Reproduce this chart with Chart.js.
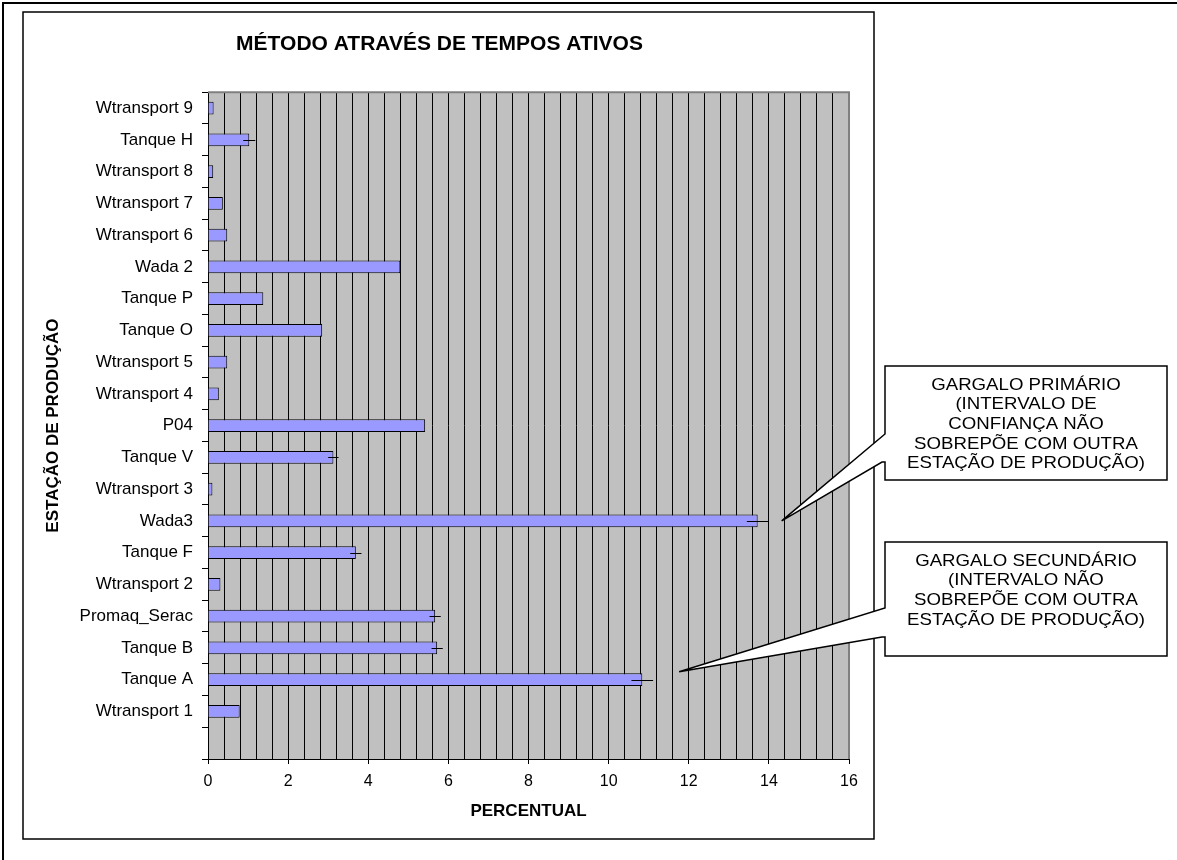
<!DOCTYPE html>
<html>
<head>
<meta charset="utf-8">
<script src="https://cdn.jsdelivr.net/npm/chart.js@4"></script>
<style>
  html, body { margin: 0; padding: 0; background: #fff; }
  #wrap { width: 1177px; height: 860px; }
</style>
</head>
<body>
<div id="wrap"><canvas id="chartOne" width="1177" height="860"></canvas></div>
<script>
// stations, top to bottom (last slot is empty in the original)
const stations = ['Wtransport 9', 'Tanque H', 'Wtransport 8', 'Wtransport 7', 'Wtransport 6',
  'Wada 2', 'Tanque P', 'Tanque O', 'Wtransport 5', 'Wtransport 4', 'P04', 'Tanque V',
  'Wtransport 3', 'Wada3', 'Tanque F', 'Wtransport 2', 'Promaq_Serac', 'Tanque B',
  'Tanque A', 'Wtransport 1', ''];
const percent = [0.14, 1.03, 0.13, 0.37, 0.48, 4.80, 1.38, 2.85, 0.48, 0.27, 5.42, 3.13,
  0.11, 13.72, 3.69, 0.31, 5.67, 5.72, 10.84, 0.79, null];
// half width of the confidence interval
const errors = [0, 0.15, 0, 0, 0, 0, 0, 0, 0, 0, 0, 0.13,
  0, 0.27, 0.14, 0, 0.14, 0.14, 0.27, 0, 0];
const xTickLabels = [0, 2, 4, 6, 8, 10, 12, 14, 16];

const notes = [
  { lines: ['GARGALO PRIMÁRIO', '(INTERVALO DE', 'CONFIANÇA NÃO', 'SOBREPÕE COM OUTRA', 'ESTAÇÃO DE PRODUÇÃO)'],
    station: 'Wada3', at: 14.32, shift: 0, box: [885, 366, 1167, 480], legs: [434, 462] },
  { lines: ['GARGALO SECUNDÁRIO', '(INTERVALO NÃO', 'SOBREPÕE COM OUTRA', 'ESTAÇÃO DE PRODUÇÃO)'],
    station: 'Tanque A', at: 11.76, shift: -0.25, box: [885, 542, 1167, 656], legs: [608, 637] }
];

const isLabel = v => xTickLabels.some(t => Math.abs(t - v) < 1e-6);

Chart.defaults.font.family = '"Liberation Sans", Arial, sans-serif';
Chart.defaults.color = '#000';

const frames = {
  id: 'frames',
  beforeDraw(chart) {
    const ctx = chart.ctx, a = chart.chartArea;
    ctx.save();
    ctx.fillStyle = '#fff';
    ctx.fillRect(0, 0, chart.width, chart.height);
    ctx.strokeStyle = '#000';
    ctx.lineWidth = 2;
    ctx.beginPath();
    ctx.moveTo(3, 860); ctx.lineTo(3, 3); ctx.lineTo(1177, 3);
    ctx.stroke();
    ctx.lineWidth = 1.5;
    ctx.strokeRect(23, 12, 851, 827);
    ctx.fillStyle = '#c0c0c0';
    ctx.fillRect(a.left, a.top, a.right - a.left, a.bottom - a.top);
    ctx.restore();
  },
  beforeDatasetsDraw(chart) {
    const ctx = chart.ctx, a = chart.chartArea;
    ctx.save();
    ctx.strokeStyle = '#808080';
    ctx.lineWidth = 2;
    ctx.beginPath();
    ctx.moveTo(a.left, a.top); ctx.lineTo(a.right, a.top); ctx.lineTo(a.right, a.bottom);
    ctx.stroke();
    ctx.restore();
  }
};

const errorBars = {
  id: 'errorBars',
  afterDatasetsDraw(chart) {
    const ctx = chart.ctx, xs = chart.scales.x;
    const meta = chart.getDatasetMeta(0);
    ctx.save();
    ctx.strokeStyle = '#000';
    ctx.lineWidth = 1;
    meta.data.forEach((bar, i) => {
      if (!errors[i] || percent[i] == null) return;
      const y = Math.round(bar.y) + 0.5;
      ctx.beginPath();
      ctx.moveTo(xs.getPixelForValue(percent[i] - errors[i]), y);
      ctx.lineTo(xs.getPixelForValue(percent[i] + errors[i]), y);
      ctx.stroke();
    });
    ctx.restore();
  }
};

const callouts = {
  id: 'callouts',
  afterDraw(chart) {
    const ctx = chart.ctx, xs = chart.scales.x, ys = chart.scales.y;
    ctx.save();
    notes.forEach(n => {
      const px = xs.getPixelForValue(n.at);
      const py = ys.getPixelForValue(stations.indexOf(n.station) + n.shift);
      const [l, t, r, b] = n.box;
      ctx.beginPath();
      ctx.moveTo(l, t);
      ctx.lineTo(r, t);
      ctx.lineTo(r, b);
      ctx.lineTo(l, b);
      ctx.lineTo(l, n.legs[1]);
      ctx.lineTo(l - 3, n.legs[1]);
      ctx.lineTo(px, py);
      ctx.lineTo(l, n.legs[0]);
      ctx.closePath();
      ctx.fillStyle = '#fff';
      ctx.fill();
      ctx.strokeStyle = '#000';
      ctx.lineWidth = 1.5;
      ctx.stroke();
      ctx.fillStyle = '#000';
      ctx.font = '16.5px "Liberation Sans", Arial, sans-serif';
      ctx.textAlign = 'center';
      ctx.textBaseline = 'middle';
      const cx = (l + r) / 2;
      n.lines.forEach((s, k) => {
        ctx.save();
        ctx.translate(cx, t + 19 + k * 19.7);
        ctx.scale(1.13, 1);
        ctx.fillText(s, 0, 0);
        ctx.restore();
      });
    });
    ctx.restore();
  }
};

new Chart(document.getElementById('chartOne'), {
  type: 'bar',
  data: {
    labels: stations,
    datasets: [{
      label: 'Percentual',
      data: percent,
      backgroundColor: '#9999ff',
      borderColor: '#000',
      borderWidth: 1,
      barPercentage: 0.4,
      categoryPercentage: 1
    }]
  },
  options: {
    indexAxis: 'y',
    responsive: false,
    animation: false,
    layout: { padding: { left: 30, right: 328, top: 20, bottom: 31 } },
    plugins: {
      legend: { display: false },
      tooltip: { enabled: false },
      title: {
        display: true,
        text: 'MÉTODO ATRAVÉS DE TEMPOS ATIVOS',
        color: '#000',
        font: { size: 21, weight: 'bold' },
        padding: { top: 12, bottom: 35 }
      }
    },
    scales: {
      x: {
        min: 0,
        max: 16,
        afterFit: s => { s.height = 70; },
        border: { color: '#000', width: 1 },
        grid: {
          color: '#000',
          lineWidth: 1,
          tickLength: 5,
          tickColor: c => (c.tick && isLabel(c.tick.value)) ? '#000' : 'rgba(0,0,0,0)'
        },
        ticks: {
          stepSize: 0.4,
          autoSkip: false,
          maxRotation: 0,
          padding: 8,
          font: { size: 16 },
          callback: v => isLabel(v) ? String(Math.round(v)) : ''
        },
        title: {
          display: true,
          text: 'PERCENTUAL',
          font: { size: 17, weight: 'bold' },
          padding: { top: 0, bottom: 7 }
        }
      },
      y: {
        afterFit: s => { s.width = 178; },
        border: { color: '#000', width: 1 },
        grid: { drawOnChartArea: false, drawTicks: true, tickLength: 6, color: '#000' },
        ticks: { padding: 9, autoSkip: false, font: { size: 17 } },
        title: {
          display: true,
          text: 'ESTAÇÃO DE PRODUÇÃO',
          font: { size: 17, weight: 'bold' },
          padding: { top: 13, bottom: 0 }
        }
      }
    }
  },
  plugins: [frames, errorBars, callouts]
});
</script>
</body>
</html>
